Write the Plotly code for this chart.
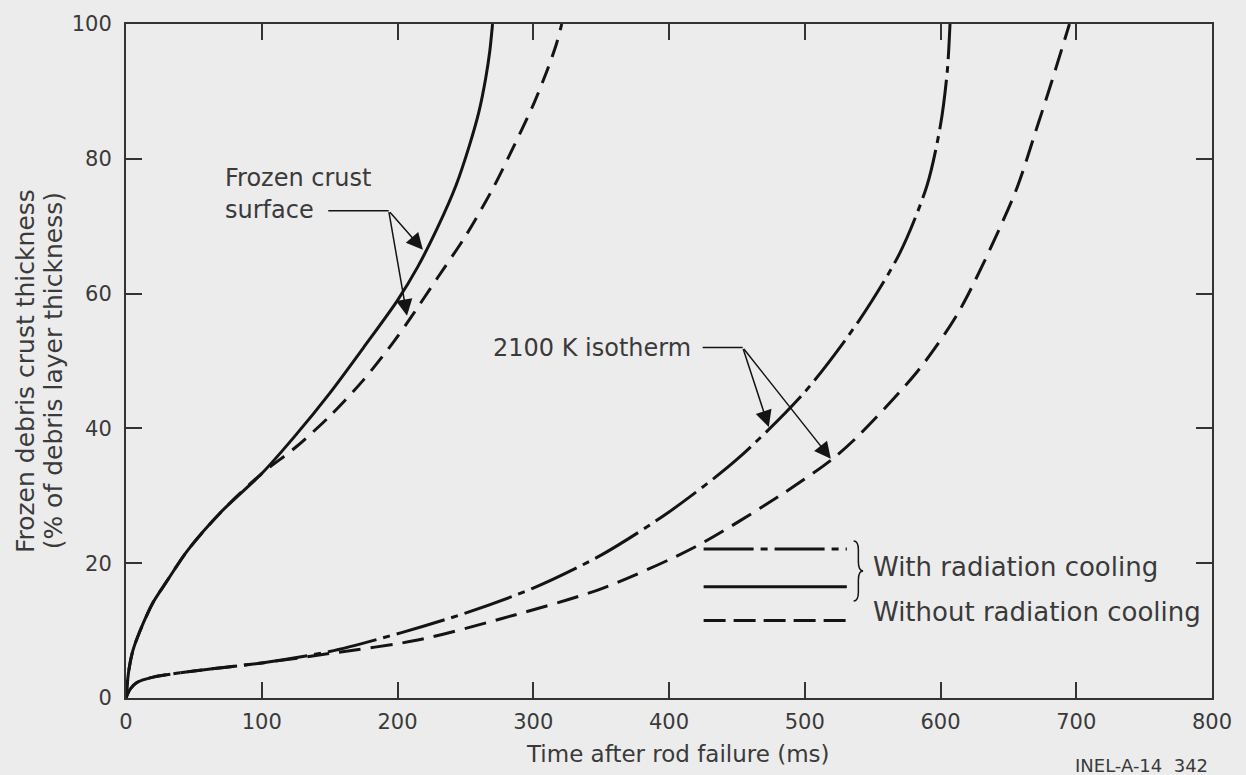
import plotly.graph_objects as go

# ---- data ----
crust_rad_x = [0, 2, 5, 10, 20, 30, 45, 70, 100, 125, 150, 175, 200, 215, 230, 243, 253, 260, 265, 268, 270]
crust_rad_y = [0, 4, 7, 9.8, 14.2, 17.3, 21.8, 27.6, 33.3, 39, 45.2, 52, 59, 64, 70, 76, 82, 87, 92, 96, 100]

crust_norad_x = [0, 2, 5, 10, 20, 30, 45, 70, 100, 125, 150, 175, 197, 210, 230, 250, 270, 286, 300, 310, 317, 321]
crust_norad_y = [0, 4, 7, 9.8, 14.2, 17.3, 21.8, 27.6, 33.3, 37.2, 41.8, 47.2, 52.8, 56.5, 62.5, 68.5, 75.5, 82, 88, 93, 97, 100]

iso_rad_x = [0, 3, 8, 20, 50, 100, 150, 203, 250, 300, 350, 400, 450, 500, 540, 570, 590, 600, 605, 607]
iso_rad_y = [0, 1.3, 2.3, 3.1, 4.0, 5.2, 6.9, 9.7, 12.6, 16.3, 21.2, 27.6, 35.4, 45.4, 56, 66, 76, 85, 93, 100]

iso_norad_x = [0, 3, 8, 20, 50, 100, 150, 215, 277, 350, 420, 486, 520, 540, 584, 614, 655, 670, 682, 695]
iso_norad_y = [0, 1.3, 2.3, 3.1, 4.0, 5.2, 6.6, 8.6, 11.8, 16.2, 22.5, 30.6, 35.4, 39, 48.7, 57.5, 75, 84, 91.5, 100]

x_ticks = [0, 100, 200, 300, 400, 500, 600, 700, 800]
y_ticks = [0, 20, 40, 60, 80, 100]

INK = "#141414"
TXT = "#3a3a3a"
BG = "#ececec"
FONT = "DejaVu Sans"

fig = go.Figure()

def curve(x, y, dash):
    fig.add_trace(go.Scatter(
        x=x, y=y, mode="lines",
        line=dict(color=INK, width=3, dash=dash, shape="spline", smoothing=0.8),
        showlegend=False, hoverinfo="skip"))

curve(crust_rad_x, crust_rad_y, "solid")
curve(crust_norad_x, crust_norad_y, "18px,10px")
curve(iso_rad_x, iso_rad_y, "50px,7px,7px,7px")
curve(iso_norad_x, iso_norad_y, "22px,10px")

# ---- legend drawn by hand ----
shapes = []
shapes.append(dict(type="line", xref="x", yref="y", x0=425.5, x1=531, y0=22.1, y1=22.1,
                   line=dict(color=INK, width=3, dash="50px,7px,7px,7px")))
shapes.append(dict(type="line", xref="x", yref="y", x0=425.5, x1=531, y0=16.5, y1=16.5,
                   line=dict(color=INK, width=3)))
shapes.append(dict(type="line", xref="x", yref="y", x0=425.5, x1=531, y0=11.5, y1=11.5,
                   line=dict(color=INK, width=3, dash="22px,8px")))
# brace
shapes.append(dict(type="path", xref="x", yref="y",
                   path="M 536,23.3 Q 539.5,23.3 539.5,22 L 539.5,20.2 Q 539.5,18.85 543,18.85 "
                        "Q 539.5,18.85 539.5,17.5 L 539.5,15.7 Q 539.5,14.4 536,14.4",
                   line=dict(color=INK, width=1.5)))
# leader lines
shapes.append(dict(type="line", xref="x", yref="y", x0=149, x1=193.5, y0=72.3, y1=72.3,
                   line=dict(color=INK, width=1.5)))
shapes.append(dict(type="line", xref="x", yref="y", x0=424.8, x1=454.3, y0=52, y1=52,
                   line=dict(color=INK, width=1.5)))

ann = []
def txt(x, y, s, size, xanchor="left", xref="x", yref="y", angle=0):
    ann.append(dict(x=x, y=y, xref=xref, yref=yref, text=s, showarrow=False,
                    xanchor=xanchor, yanchor="middle", textangle=angle,
                    font=dict(family=FONT, size=size, color=TXT)))

def arrow(x_tip, y_tip, x_tail, y_tail):
    ann.append(dict(x=x_tip, y=y_tip, ax=x_tail, ay=y_tail, xref="x", yref="y",
                    axref="x", ayref="y", text="", showarrow=True,
                    arrowhead=2, arrowsize=2.2, arrowwidth=1.5, arrowcolor=INK))

txt(548.8, 19.4, "With radiation cooling", 26)
txt(548.8, 12.7, "Without radiation cooling", 26)
txt(71.5, 77.2, "Frozen crust", 24)
txt(71.5, 72.4, "surface", 24)
txt(417.4, 52, "2100 K isotherm", 24, xanchor="right")

arrow(218.7, 66.5, 193.5, 72.3)
arrow(207, 56.7, 193.5, 72.3)
arrow(473.5, 40.2, 454.3, 52)
arrow(519.2, 35.5, 454.3, 52)

# axis titles
txt(0.508, -0.083, "Time after rod failure (ms)", 23, xanchor="center", xref="paper", yref="paper")
txt(-0.093, 0.485, "Frozen debris crust thickness", 25, xanchor="center", xref="paper", yref="paper", angle=-90)
txt(-0.067, 0.485, "(% of debris layer thickness)", 25, xanchor="center", xref="paper", yref="paper", angle=-90)
txt(0.998, -0.1, "INEL-A-14  342", 18, xanchor="right", xref="paper", yref="paper")

fig.update_layout(
    width=1246, height=775,
    margin=dict(l=126, r=34, t=17, b=77),
    paper_bgcolor=BG, plot_bgcolor=BG,
    shapes=shapes, annotations=ann,
    showlegend=False,
    font=dict(family=FONT, color=TXT),
)
fig.update_xaxes(range=[0, 800], tickvals=x_ticks, ticktext=[str(v) for v in x_ticks],
                 showgrid=False, zeroline=False, showline=True, linecolor="#333", linewidth=2,
                 mirror="ticks", ticks="inside", ticklen=16, tickwidth=2, tickcolor="#333",
                 ticklabelstandoff=4,
                 tickfont=dict(family=FONT, size=21, color=TXT))
fig.update_yaxes(range=[0, 100], tickvals=y_ticks, ticktext=[str(v) for v in y_ticks],
                 showgrid=False, zeroline=False, showline=True, linecolor="#333", linewidth=2,
                 mirror="ticks", ticks="inside", ticklen=16, tickwidth=2, tickcolor="#333",
                 ticklabelstandoff=8,
                 tickfont=dict(family=FONT, size=21, color=TXT))

fig.write_html("out.html")
